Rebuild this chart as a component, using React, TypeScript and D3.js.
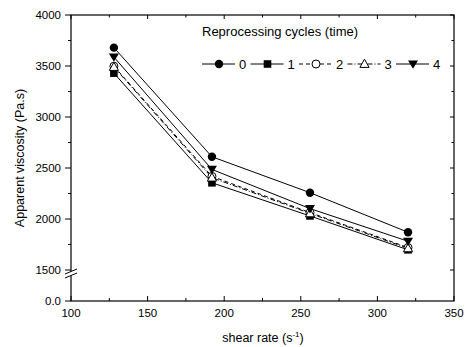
import * as d3 from 'd3';

const shearRates = [128, 192, 256, 320];
const cycles = ['0', '1', '2', '3', '4'];
const viscosity0 = [3680, 2610, 2258, 1870];
const viscosity1 = [3430, 2355, 2030, 1698];
const viscosity2 = [3498, 2418, 2063, 1720];
const viscosity3 = [3490, 2405, 2055, 1712];
const viscosity4 = [3588, 2486, 2102, 1782];
const xTicks = [100, 150, 200, 250, 300, 350];
const yTicks = [0, 1500, 2000, 2500, 3000, 3500, 4000];

const W = 467;
const H = 347;
const left = 71;
const right = 454;
const top = 15;
const bottom = 301;

const series = [
  { name: cycles[0], values: viscosity0, marker: 'circle', dash: null },
  { name: cycles[1], values: viscosity1, marker: 'square', dash: null },
  { name: cycles[2], values: viscosity2, marker: 'opencircle', dash: '4,3' },
  { name: cycles[3], values: viscosity3, marker: 'opentriangle', dash: '5,2,1,2' },
  { name: cycles[4], values: viscosity4, marker: 'downtriangle', dash: null },
];

const Marker = ({ type, x, y }: { type: string; x: number; y: number }) => {
  if (type === 'circle') return <circle cx={x} cy={y} r={4.2} fill="#000" />;
  if (type === 'opencircle') return <circle cx={x} cy={y} r={4} fill="#fff" stroke="#000" strokeWidth={1} />;
  if (type === 'square') return <rect x={x - 3.8} y={y - 3.8} width={7.6} height={7.6} fill="#000" />;
  if (type === 'opentriangle')
    return (
      <path
        d={`M${x},${y - 4.8}L${x + 4.6},${y + 3.4}L${x - 4.6},${y + 3.4}Z`}
        fill="#fff"
        stroke="#000"
        strokeWidth={1}
      />
    );
  return <path d={`M${x},${y + 4.8}L${x + 5},${y - 3.6}L${x - 5},${y - 3.6}Z`} fill="#000" />;
};

export default function App() {
  const x = d3.scaleLinear().domain([100, 350]).range([left, right]);
  const y = d3.scaleLinear().domain([0, 1500, 4000]).range([bottom, 270, top]);
  const line = d3
    .line<number>()
    .x((_d, i) => x(shearRates[i]))
    .y((d) => y(d));

  const xMinor = d3.range(125, 350, 50);
  const yMinor = d3.range(1750, 4000, 500);
  const font = 'Liberation Sans, Arial, sans-serif';

  const legendX0 = 202;
  const legendStep = 48.5;
  const legendY = 64;

  return (
    <svg
      width={W}
      height={H}
      style={{ position: 'absolute', left: 0, top: 0, background: '#fff' }}
      fontFamily={font}
    >
      <rect width={W} height={H} fill="#fff" />
      {/* frame */}
      <rect x={left} y={top} width={right - left} height={bottom - top} fill="none" stroke="#000" strokeWidth={1.2} />

      {/* bottom ticks (inward) and top ticks */}
      {xTicks.map((t) => (
        <g key={'xt' + t}>
          <line x1={x(t)} x2={x(t)} y1={bottom} y2={bottom - 5} stroke="#000" />
          <line x1={x(t)} x2={x(t)} y1={top} y2={top + 4} stroke="#000" />
          <text x={x(t)} y={317} textAnchor="middle" fontSize={11.5} fill="#000">
            {t}
          </text>
        </g>
      ))}
      {xMinor.map((t) => (
        <g key={'xm' + t}>
          <line x1={x(t)} x2={x(t)} y1={bottom} y2={bottom - 3} stroke="#000" />
          <line x1={x(t)} x2={x(t)} y1={top} y2={top + 2.5} stroke="#000" />
        </g>
      ))}

      {/* left ticks (outward) and right ticks */}
      {yTicks.map((t) => (
        <g key={'yt' + t}>
          <line x1={left - 6} x2={left} y1={y(t)} y2={y(t)} stroke="#000" />
          {t >= 1500 && <line x1={right} x2={right - 4} y1={y(t)} y2={y(t)} stroke="#000" />}
          <text x={61} y={y(t) + 4} textAnchor="end" fontSize={11.5} fill="#000">
            {t === 0 ? '0.0' : t}
          </text>
        </g>
      ))}
      {yMinor.map((t) => (
        <g key={'ym' + t}>
          <line x1={left - 3} x2={left} y1={y(t)} y2={y(t)} stroke="#000" />
          <line x1={right} x2={right - 2.5} y1={y(t)} y2={y(t)} stroke="#000" />
        </g>
      ))}

      {/* axis break */}
      <polygon points={`${left - 6},${y(1500) + 4} ${left + 6},${y(1500) - 1} ${left + 6},${y(1500) + 3} ${left - 6},${y(1500) + 8}`} fill="#fff" />
      <line x1={left - 6} x2={left + 6} y1={y(1500) + 4} y2={y(1500) - 1} stroke="#000" />
      <line x1={left - 6} x2={left + 6} y1={y(1500) + 8} y2={y(1500) + 3} stroke="#000" />

      {/* series */}
      {series.map((s) => (
        <path
          key={'l' + s.name}
          d={line(s.values) || ''}
          fill="none"
          stroke="#000"
          strokeWidth={1}
          strokeDasharray={s.dash || undefined}
        />
      ))}
      {series.map((s) =>
        s.values.map((v, i) => <Marker key={s.name + i} type={s.marker} x={x(shearRates[i])} y={y(v)} />)
      )}

      {/* legend */}
      <text x={202} y={36} fontSize={13} fill="#000">
        Reprocessing cycles (time)
      </text>
      {series.map((s, i) => {
        const lx = legendX0 + i * legendStep;
        return (
          <g key={'lg' + s.name}>
            <line
              x1={lx}
              x2={lx + 33}
              y1={legendY}
              y2={legendY}
              stroke="#000"
              strokeWidth={1}
              strokeDasharray={s.dash || undefined}
            />
            <Marker type={s.marker} x={lx + 17} y={legendY} />
            <text x={lx + 37} y={legendY + 5} fontSize={13} fill="#000">
              {s.name}
            </text>
          </g>
        );
      })}

      {/* axis titles */}
      <text
        transform={`translate(24,${(top + bottom) / 2}) rotate(-90)`}
        textAnchor="middle"
        fontSize={12.5}
        fill="#000"
      >
        Apparent viscosity (Pa.s)
      </text>
      <text x={263} y={342} textAnchor="middle" fontSize={12.5} fill="#000">
        shear rate (s
        <tspan dy={-5} fontSize={8}>
          -1
        </tspan>
        <tspan dy={5}>)</tspan>
      </text>
    </svg>
  );
}
